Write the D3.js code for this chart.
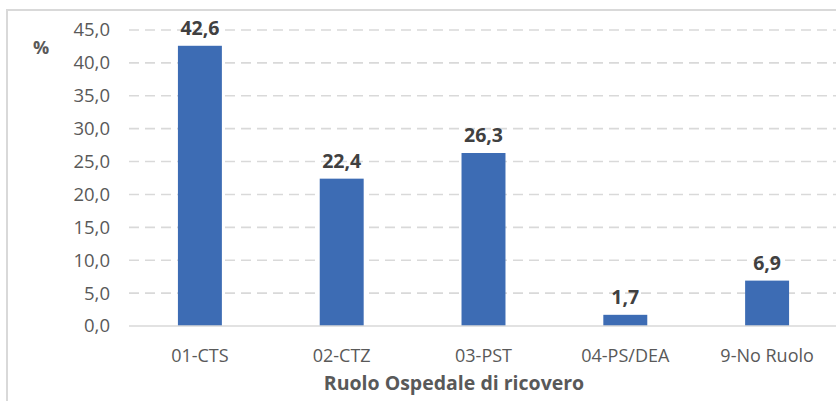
<!DOCTYPE html>
<html><head><meta charset="utf-8">
<script src="https://cdn.jsdelivr.net/npm/d3@7"></script>
<style>body{margin:0;background:#fff}svg{display:block}</style>
</head><body>
<script>
const categories = ["01-CTS","02-CTZ","03-PST","04-PS/DEA","9-No Ruolo"];
const values = [42.6, 22.4, 26.3, 1.7, 6.9];
const yTicks = [0,5,10,15,20,25,30,35,40,45];
const yUnit = "%";
const xTitle = "Ruolo Ospedale di ricovero";

const W = 836, H = 401;
const svg = d3.select("body").append("svg").attr("width", W).attr("height", H);
const font = "'Open Sans', 'Noto Sans', sans-serif";
const fmt = v => v.toFixed(1).replace(".", ",");

// chart border
svg.append("rect").attr("x", 7).attr("y", 10).attr("width", 840).attr("height", 400)
  .attr("fill", "none").attr("stroke", "#D9D9D9").attr("stroke-width", 2);

const x = d3.scaleBand().domain(categories).range([129, 838]).paddingInner(0.69).paddingOuter(0.345);
const y = d3.scaleLinear().domain([0, 45]).range([326, 30]);

// grid
svg.append("g").selectAll("line").data(yTicks.filter(t => t > 0)).join("line")
  .attr("x1", 129).attr("x2", 838).attr("y1", d => y(d)).attr("y2", d => y(d))
  .attr("stroke", "#D9D9D9").attr("stroke-width", 1.6).attr("stroke-dasharray", "10,6");

// y tick labels
svg.append("g").selectAll("text").data(yTicks).join("text")
  .attr("x", 110).attr("y", d => y(d)).attr("dy", "0.35em").attr("text-anchor", "end")
  .attr("font-family", font).attr("font-size", 18.5).attr("fill", "#595959").text(fmt);

svg.append("text").attr("x", 41).attr("y", 48).attr("dy", "0.35em").attr("text-anchor", "middle")
  .attr("font-family", font).attr("font-size", 18).attr("font-weight", "bold").attr("fill", "#595959").text(yUnit);

// bars
svg.append("g").selectAll("rect").data(values).join("rect")
  .attr("x", (d, i) => x(categories[i])).attr("width", x.bandwidth())
  .attr("y", d => y(d)).attr("height", d => y(0) - y(d)).attr("fill", "#3D6CB4");

// baseline
svg.append("line").attr("x1", 129).attr("x2", 838).attr("y1", y(0)).attr("y2", y(0))
  .attr("stroke", "#D9D9D9").attr("stroke-width", 1.6);

// value labels
svg.append("g").selectAll("text").data(values).join("text")
  .attr("x", (d, i) => x(categories[i]) + x.bandwidth() / 2).attr("y", d => y(d) - 11)
  .attr("text-anchor", "middle").attr("font-family", font).attr("font-size", 19.5)
  .attr("font-weight", "bold").attr("fill", "#404040").text(fmt);

// category labels
svg.append("g").selectAll("text").data(categories).join("text")
  .attr("x", d => x(d) + x.bandwidth() / 2).attr("y", 362)
  .attr("text-anchor", "middle").attr("font-family", font).attr("font-size", 18)
  .attr("fill", "#595959").text(d => d);

svg.append("text").attr("x", 454).attr("y", 390).attr("text-anchor", "middle")
  .attr("font-family", font).attr("font-size", 19.5).attr("font-weight", "bold")
  .attr("fill", "#595959").text(xTitle);
</script>
</body></html>
